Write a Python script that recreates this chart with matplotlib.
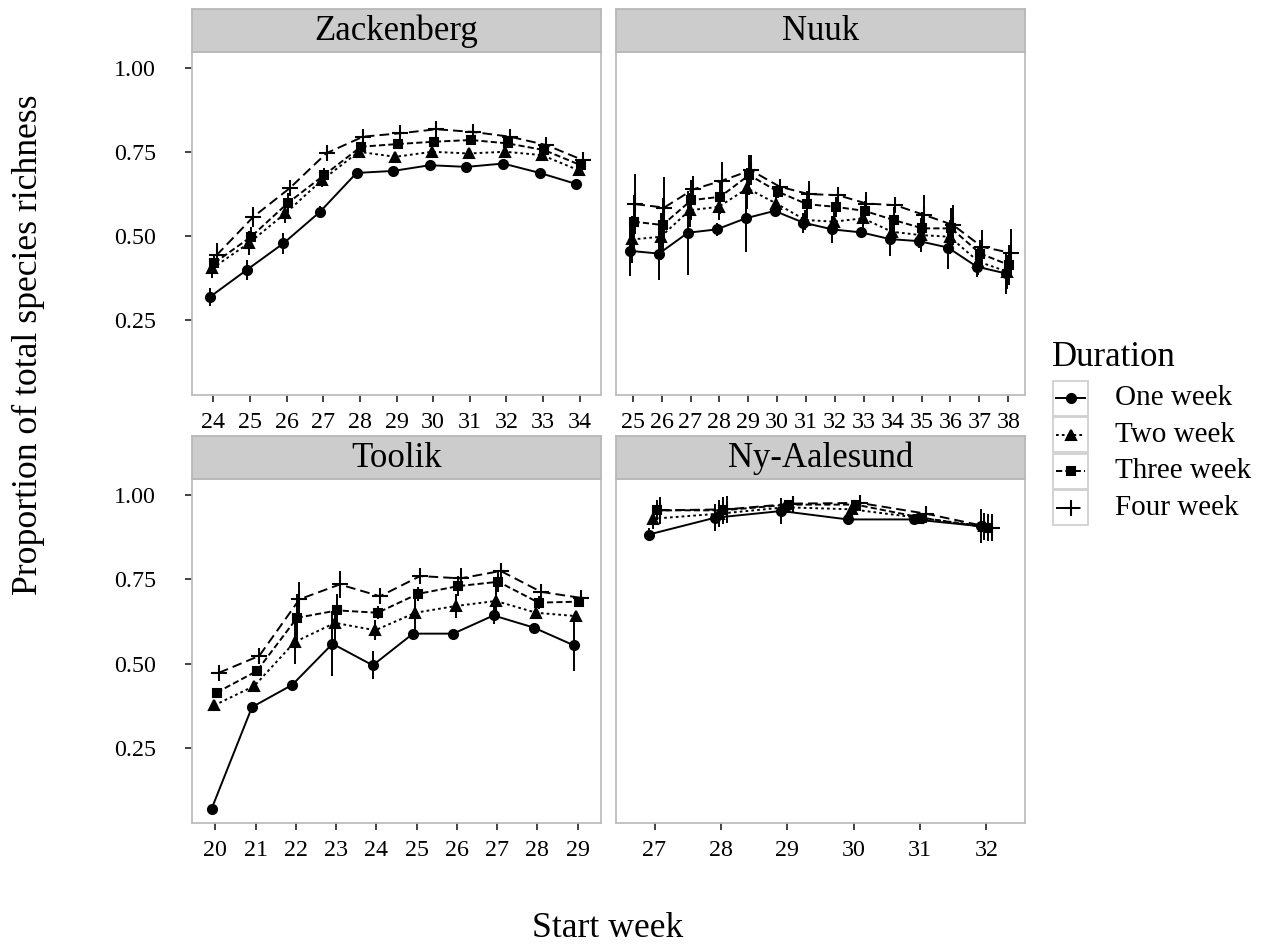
import numpy as np
import matplotlib
matplotlib.use("Agg")
import matplotlib.pyplot as plt
from matplotlib.lines import Line2D
from matplotlib.patches import Rectangle

plt.rcParams["font.family"] = ["Liberation Serif", "DejaVu Serif"]

SITES = ["Zackenberg", "Nuuk", "Toolik", "Ny-Aalesund"]
DURATIONS = ["One week", "Two week", "Three week", "Four week"]

# --- data (mean proportion, +/- error) ---
zack_weeks = list(range(24, 35))
zack_one = [0.319, 0.399, 0.478, 0.572, 0.688, 0.694, 0.711, 0.706, 0.716, 0.688, 0.655]
zack_two = [0.404, 0.479, 0.568, 0.667, 0.751, 0.736, 0.751, 0.746, 0.751, 0.741, 0.696]
zack_three = [0.420, 0.498, 0.598, 0.682, 0.766, 0.774, 0.781, 0.786, 0.776, 0.756, 0.711]
zack_four = [0.443, 0.557, 0.643, 0.747, 0.796, 0.806, 0.818, 0.810, 0.796, 0.771, 0.726]
zack_one_err = [0.027, 0.030, 0.030, 0.018, 0.012, 0.012, 0.010, 0.008, 0.010, 0.010, 0.012]
zack_two_err = [0.030, 0.035, 0.030, 0.020, 0.015, 0.012, 0.010, 0.010, 0.010, 0.010, 0.012]
zack_three_err = [0.025, 0.030, 0.030, 0.020, 0.015, 0.012, 0.010, 0.010, 0.010, 0.010, 0.010]
zack_four_err = [0.035, 0.030, 0.025, 0.020, 0.020, 0.010, 0.010, 0.010, 0.010, 0.010, 0.010]

nuuk_weeks = list(range(25, 39))
nuuk_one = [0.456, 0.448, 0.510, 0.520, 0.553, 0.575, 0.540, 0.520, 0.511, 0.491, 0.485, 0.466, 0.409, 0.389]
nuuk_two = [0.490, 0.498, 0.577, 0.587, 0.642, 0.597, 0.548, 0.543, 0.553, 0.513, 0.503, 0.498, 0.424, 0.394]
nuuk_three = [0.543, 0.533, 0.607, 0.617, 0.682, 0.632, 0.595, 0.587, 0.575, 0.548, 0.523, 0.523, 0.448, 0.414]
nuuk_four = [0.595, 0.585, 0.639, 0.665, 0.696, 0.647, 0.625, 0.622, 0.597, 0.592, 0.563, 0.533, 0.468, 0.450]
nuuk_one_err = [0.075, 0.080, 0.125, 0.020, 0.100, 0.015, 0.030, 0.040, 0.010, 0.050, 0.020, 0.065, 0.030, 0.060]
nuuk_two_err = [0.070, 0.070, 0.050, 0.040, 0.060, 0.020, 0.030, 0.030, 0.030, 0.030, 0.050, 0.050, 0.040, 0.050]
nuuk_three_err = [0.080, 0.080, 0.060, 0.050, 0.060, 0.020, 0.040, 0.030, 0.030, 0.040, 0.050, 0.060, 0.040, 0.060]
nuuk_four_err = [0.090, 0.090, 0.040, 0.055, 0.045, 0.020, 0.040, 0.020, 0.035, 0.020, 0.060, 0.060, 0.050, 0.070]

toolik_weeks = list(range(20, 30))
toolik_one = [0.070, 0.371, 0.437, 0.559, 0.495, 0.589, 0.589, 0.643, 0.607, 0.554]
toolik_two = [0.376, 0.434, 0.564, 0.621, 0.599, 0.651, 0.671, 0.686, 0.651, 0.641]
toolik_three = [0.414, 0.478, 0.636, 0.658, 0.651, 0.707, 0.730, 0.743, 0.681, 0.684]
toolik_four = [0.473, 0.523, 0.691, 0.735, 0.700, 0.760, 0.753, 0.775, 0.713, 0.695]
toolik_one_err = [0.000, 0.010, 0.000, 0.096, 0.042, 0.010, 0.000, 0.025, 0.005, 0.077]
toolik_two_err = [0.010, 0.015, 0.066, 0.050, 0.030, 0.050, 0.035, 0.040, 0.020, 0.010]
toolik_three_err = [0.010, 0.010, 0.070, 0.050, 0.020, 0.020, 0.030, 0.030, 0.020, 0.010]
toolik_four_err = [0.005, 0.020, 0.050, 0.040, 0.020, 0.015, 0.030, 0.020, 0.015, 0.010]

ny_weeks = list(range(27, 33))
ny_one = [0.883, 0.933, 0.953, 0.928, 0.928, 0.908]
ny_two = [0.930, 0.945, 0.964, 0.958, 0.933, 0.908]
ny_three = [0.955, 0.955, 0.972, 0.972, 0.933, 0.903]
ny_four = [0.955, 0.958, 0.975, 0.977, 0.945, 0.903]
ny_one_err = [0.020, 0.040, 0.040, 0.010, 0.005, 0.050]
ny_two_err = [0.030, 0.040, 0.020, 0.020, 0.010, 0.040]
ny_three_err = [0.030, 0.040, 0.015, 0.015, 0.010, 0.040]
ny_four_err = [0.040, 0.040, 0.015, 0.020, 0.010, 0.040]

PANELS = {
    "Zackenberg": (zack_weeks, [zack_one, zack_two, zack_three, zack_four],
                   [zack_one_err, zack_two_err, zack_three_err, zack_four_err]),
    "Nuuk": (nuuk_weeks, [nuuk_one, nuuk_two, nuuk_three, nuuk_four],
             [nuuk_one_err, nuuk_two_err, nuuk_three_err, nuuk_four_err]),
    "Toolik": (toolik_weeks, [toolik_one, toolik_two, toolik_three, toolik_four],
               [toolik_one_err, toolik_two_err, toolik_three_err, toolik_four_err]),
    "Ny-Aalesund": (ny_weeks, [ny_one, ny_two, ny_three, ny_four],
                    [ny_one_err, ny_two_err, ny_three_err, ny_four_err]),
}

# styles per duration
MARKERS = ["o", "^", "s", "+"]
MSIZE = [6.5, 7, 6, 12]
DASHES = [None, (1.4, 1.6), (3.2, 1.6), (5.0, 2.6)]
DODGE = [-0.09, -0.03, 0.03, 0.09]
LW = 1.4

W, H = 1266, 946
fig = plt.figure(figsize=(W / 100, H / 100), dpi=100)


def rect(x0, y0, x1, y1):
    return [x0 / W, 1 - y1 / H, (x1 - x0) / W, (y1 - y0) / H]


PANEL_PX = {
    "Zackenberg": (192, 52, 601, 395),
    "Nuuk": (616, 52, 1025, 395),
    "Toolik": (192, 479, 601, 823),
    "Ny-Aalesund": (616, 479, 1025, 823),
}
STRIP_H = 43
BORDER = "#bdbdbd"

for site in SITES:
    x0, y0, x1, y1 = PANEL_PX[site]
    ax = fig.add_axes(rect(x0, y0, x1, y1))
    weeks, series, errs = PANELS[site]
    wk = np.array(weeks, dtype=float)
    for i in range(4):
        xs = wk + DODGE[i]
        ys = np.array(series[i])
        es = np.array(errs[i])
        ax.vlines(xs, ys - es, ys + es, color="black", lw=LW, zorder=2)
        ln, = ax.plot(xs, ys, color="black", lw=LW, marker=MARKERS[i],
                      ms=MSIZE[i], mew=1.5, zorder=3)
        if DASHES[i] is not None:
            ln.set_dashes(DASHES[i])
    ax.set_xlim(weeks[0] - 0.58, weeks[-1] + 0.58)
    ax.set_ylim(0.027, 1.048)
    ax.set_xticks(weeks)
    ax.set_yticks([0.25, 0.5, 0.75, 1.0])
    ax.tick_params(axis="x", length=5, width=1.3, color="#333333", pad=7,
                   labelsize=17.3)
    left = site in ("Zackenberg", "Toolik")
    ax.tick_params(axis="y", length=5 if left else 0, width=1.3, color="#333333",
                   pad=21, labelsize=17.3, labelleft=left)
    ax.yaxis.set_major_formatter(matplotlib.ticker.FormatStrFormatter("%.2f"))
    for sp in ax.spines.values():
        sp.set_color(BORDER)
        sp.set_linewidth(1.3)

    # strip
    sax = fig.add_axes(rect(x0, y0 - STRIP_H, x1, y0))
    sax.set_facecolor("#cccccc")
    sax.set_xticks([])
    sax.set_yticks([])
    for sp in sax.spines.values():
        sp.set_color("#b8b8b8")
        sp.set_linewidth(1.3)
    sax.text(0.5, 0.48, site, ha="center", va="center", fontsize=25,
             transform=sax.transAxes)

# axis titles
fig.text(608 / W, 1 - 928 / H, "Start week", ha="center", va="center", fontsize=25.7)
fig.text(28 / W, 1 - 345 / H, "Proportion of total species richness", ha="center",
         va="center", rotation=90, fontsize=25.7)

# legend
fig.text(1052 / W, 1 - 357 / H, "Duration", ha="left", va="center", fontsize=25)
key_top, key_h, key_x0, key_x1 = 380, 36.5, 1052, 1089
lax = fig.add_axes(rect(key_x0, key_top, key_x1, key_top + 4 * key_h))
lax.set_xlim(0, 1)
lax.set_ylim(4, 0)
lax.axis("off")
for i, lab in enumerate(DURATIONS):
    lax.add_patch(Rectangle((0.02, i + 0.02), 0.96, 0.96, facecolor="white",
                            edgecolor="#d0d0d0", lw=1.3))
    ln = Line2D([0.12, 0.88], [i + 0.5, i + 0.5], color="black", lw=LW)
    if DASHES[i] is not None:
        ln.set_dashes(DASHES[i])
    lax.add_line(ln)
    lax.plot([0.5], [i + 0.5], marker=MARKERS[i], ms=MSIZE[i], mew=1.5, color="black")
    fig.text(1115 / W, 1 - (key_top + (i + 0.5) * key_h) / H, lab, ha="left",
             va="center", fontsize=21)

fig.savefig("out.png", dpi=100)
